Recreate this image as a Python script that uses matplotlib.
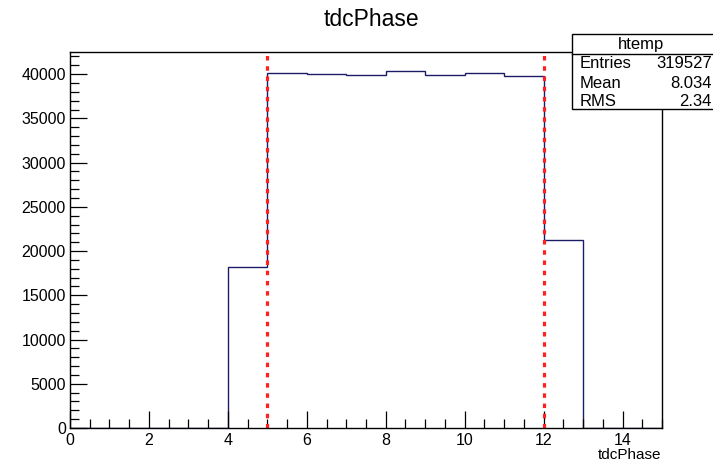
import numpy as np
import matplotlib.pyplot as plt
from matplotlib.patches import Rectangle
from matplotlib.lines import Line2D

plt.rcParams['font.family'] = ['Liberation Sans', 'DejaVu Sans']

# histogram data (unit bins from 0 to 15)
bin_edges = np.arange(0, 16)
counts = [0, 0, 0, 0, 18200, 40100, 40050, 39950, 40300, 39850, 40100, 39750, 21200, 0, 0]
cut_lines = [5, 12]

stats_name = "htemp"
stats_labels = ["Entries", "Mean", "RMS"]
stats_values = ["319527", "8.034", "2.34"]

W, H = 713, 462


def px(x, y):
    # pixel position (from top-left) -> figure fraction
    return x / W, 1 - y / H


def main():
    fig = plt.figure(figsize=(W / 100, H / 100), dpi=100)
    left, top = px(70, 52)
    right, bottom = px(662, 428)
    ax = fig.add_axes([left, bottom, right - left, top - bottom])

    ax.stairs(counts, bin_edges, color='#1c1c66', linewidth=1.0, baseline=0)
    for xc in cut_lines:
        ax.axvline(xc, color='#ff2020', linewidth=2.3, linestyle=(0, (1.4, 1.8)))

    ax.set_xlim(0, 15)
    ax.set_ylim(0, 42500)
    ax.set_xticks(np.arange(0, 15, 2))
    ax.set_xticks(np.arange(0, 15.01, 0.5), minor=True)
    ax.set_yticks(np.arange(0, 40001, 5000))
    ax.set_yticks(np.arange(0, 42001, 1000), minor=True)
    ax.tick_params(which='both', direction='in', labelsize=11.5, color='black')
    ax.tick_params(which='major', length=12, width=0.9)
    ax.tick_params(which='minor', length=6.5, width=0.9)
    ax.tick_params(axis='y', pad=3)
    ax.tick_params(axis='x', pad=3.5)
    for s in ax.spines.values():
        s.set_linewidth(1.0)

    fig.text(*px(371, 20), "tdcPhase", ha='center', va='center', fontsize=16.5)
    fig.text(*px(661, 455), "tdcPhase", ha='right', va='center', fontsize=11)

    # stats box
    bx0, by1 = px(572, 34)
    bx1, by0 = px(720, 109)
    fig.add_artist(Rectangle((bx0, by0), bx1 - bx0, by1 - by0, transform=fig.transFigure,
                             facecolor='white', edgecolor='black', linewidth=1.0, zorder=5))
    sx, sy = px(572, 54)
    fig.add_artist(Line2D([sx, bx1], [sy, sy], transform=fig.transFigure,
                          color='black', linewidth=1.0, zorder=6))
    fig.text(*px(641, 44), stats_name, ha='center', va='center', fontsize=12, zorder=7)
    rows_y = [63, 83, 102]
    for lab, val, yy in zip(stats_labels, stats_values, rows_y):
        fig.text(*px(580, yy), lab, ha='left', va='center', fontsize=12, zorder=7)
        fig.text(*px(712, yy), val, ha='right', va='center', fontsize=12, zorder=7)

    fig.savefig("out.png", dpi=100)


if __name__ == '__main__':
    main()
